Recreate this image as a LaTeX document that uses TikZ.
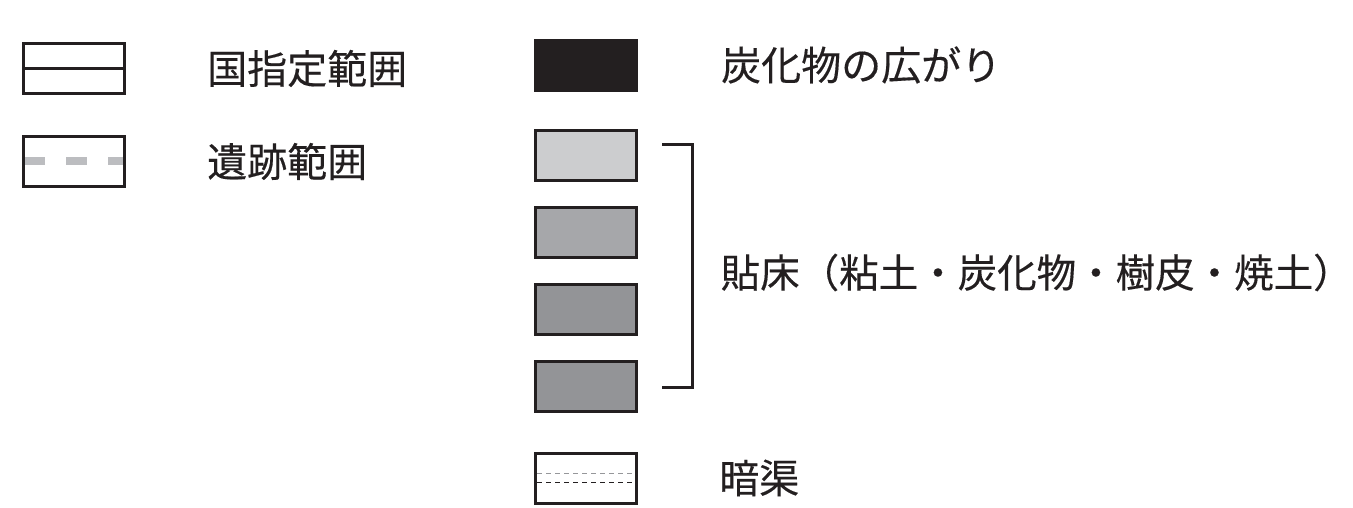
\documentclass[tikz,border=0pt]{standalone}
\usepackage{fontspec}
\setmainfont{Noto Sans CJK JP}[FakeBold=0.3]
\definecolor{ink}{HTML}{231F20}
\definecolor{gA}{HTML}{CCCDCF}
\definecolor{gB}{HTML}{A6A7AA}
\definecolor{gC}{HTML}{939497}
\definecolor{dashgray}{HTML}{BCBDC0}
\begin{document}
\begin{tikzpicture}[x=1pt,y=-1pt,
  box/.style={draw=ink,line width=3pt},
  lab/.style={anchor=west,inner sep=0pt,font=\fontsize{40}{40}\selectfont,text=ink}]
\useasboundingbox (0,0) rectangle (1353,508);
% legend left
\draw[box] (23,43.5) rectangle (124,94) coordinate (b1);
\draw[ink,line width=3pt] (23,69) -- (124,69);
\node[lab] (t1) at (207,68.5) {国指定範囲};
\draw[dashgray,line width=8pt,dash pattern=on 21pt off 21pt] (24,161.5) -- (123,161.5);
\draw[box] (23,137) rectangle (124,187);
\node[lab] (t2) at (207,161.5) {遺跡範囲};
% right column
\draw[fill=ink,draw=ink,line width=3pt] (535,40.5) rectangle (636.5,90.5);
\node[lab] (t3) at (721,65) {炭化物の広がり};
\draw[box,fill=gA] (535,130.5) rectangle (636.5,180.5);
\draw[box,fill=gB] (535,207.5) rectangle (636.5,257.5);
\draw[box,fill=gC] (535,284.5) rectangle (636.5,334.5);
\draw[box,fill=gC] (535,361) rectangle (636.5,411.5);
\coordinate (bt) at (662,145);
\coordinate (bb) at (662,387);
\draw[ink,line width=3pt] (bt) -- (692.5,145) -- (692.5,387) -- (bb);
\node[lab,font=\fontsize{39.5}{40}\selectfont] (t4) at (720.5,272.5) {貼床（粘土・炭化物・樹皮・焼土）};
\draw[box] (535,453) rectangle (636.5,503);
\draw[dashgray!80!black,line width=1.2pt,dash pattern=on 5pt off 4pt] (537,473.5) -- (635,473.5);
\draw[ink,line width=1.2pt,dash pattern=on 5pt off 4pt] (537,482.5) -- (635,482.5);
\node[lab] (t5) at (719,478) {暗渠};
\end{tikzpicture}
\end{document}
